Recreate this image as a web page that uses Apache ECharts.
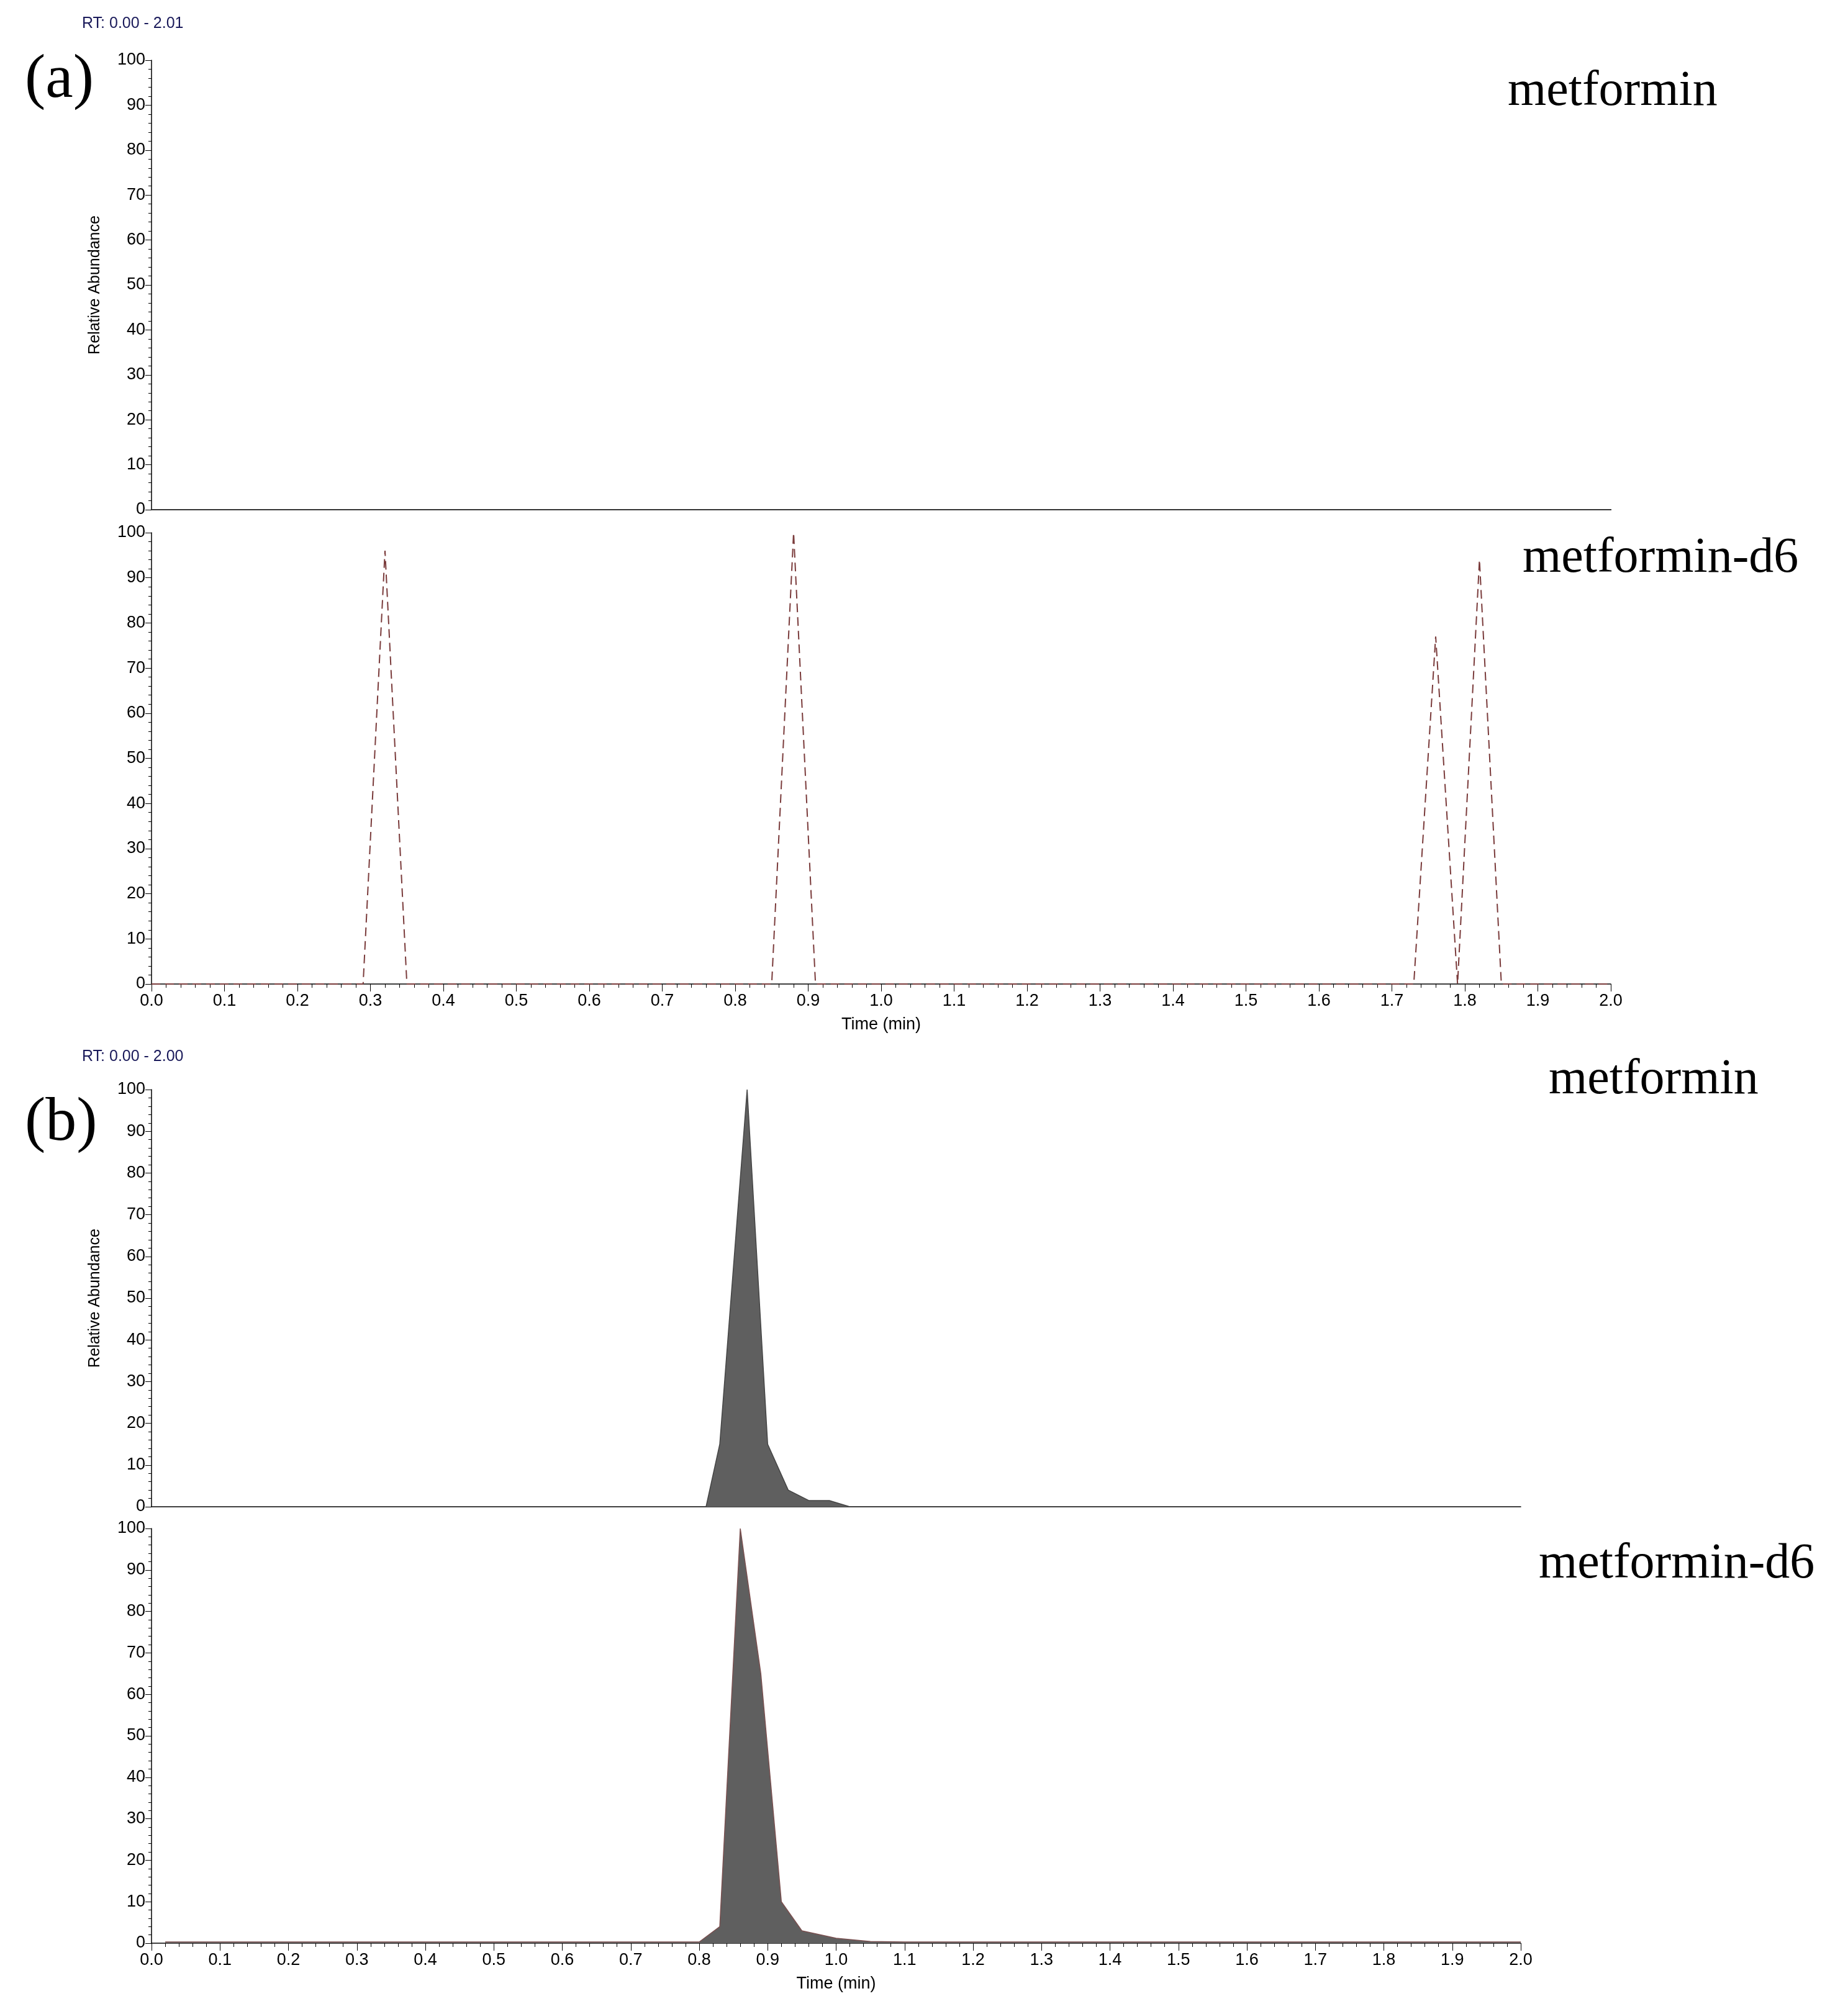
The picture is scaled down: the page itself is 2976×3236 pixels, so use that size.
<!DOCTYPE html>
<html><head><meta charset="utf-8">
<script src="https://cdn.jsdelivr.net/npm/echarts@6/dist/echarts.min.js"></script>
<style>html,body{margin:0;padding:0;background:#fff}#c{width:2976px;height:3236px}</style>
</head><body><div id="c"></div>
<script>
const yTicks = [0,10,20,30,40,50,60,70,80,90,100];
const xTicks = ['0.0','0.1','0.2','0.3','0.4','0.5','0.6','0.7','0.8','0.9','1.0','1.1','1.2','1.3','1.4','1.5','1.6','1.7','1.8','1.9','2.0'];
// (a) metformin (blank)
const aTopX = [0, 2.01];
const aTopY = [0, 0];
// (a) metformin-d6
const aBotX = [0.00,0.29,0.32,0.35,0.85,0.88,0.91,1.73,1.76,1.79,1.82,1.85,2.01];
const aBotY = [0,   0,   96,  0,   0,   100, 0,   0,   77,  0,   94,  0,   0];
const aBotLbl = ['', '', '0.32','', '', '0.88','', '', '1.76','', '1.82','', ''];
// (b) metformin
const bTopX = [0.81,0.83,0.87,0.90,0.93,0.96,0.99,1.02];
const bTopY = [0,   15,  100, 15,  4,   1.5, 1.5, 0];
const bTopLbl = ['','','RT: 0.87','','','','',''];
// (b) metformin-d6
const bBotX = [0.02,0.44,0.80,0.83,0.86,0.89,0.92,0.95,1.00,1.05,1.10,1.20,2.00];
const bBotY = [0.3, 0.3, 0.3, 4,   100, 65,  10,  3,   1.2, 0.4, 0.3, 0.3, 0.3];
const bBotLbl = ['','RT: 0.44','','','RT: 0.86','','','','','','','',''];

function mk(xs, ys, lbls){
  return xs.map((x,i)=>{
    const it = {value:[x, ys[i]]};
    if (lbls && lbls[i]) it.label = {show:true, formatter:lbls[i], position:'top', color:'#000', fontSize:25, fontFamily:'Liberation Sans Narrow, Arial', distance:6};
    return it;
  });
}
const ff = 'Liberation Sans Narrow, Liberation Sans, Arial';
function yAxis(i, name){
  return {gridIndex:i, type:'value', min:0, max:100, interval:10,
    axisLine:{show:true, lineStyle:{color:'#000', width:1.5}},
    axisTick:{show:true, length:10, lineStyle:{color:'#000'}},
    minorTick:{show:true, splitNumber:5, length:5, lineStyle:{color:'#000'}},
    axisLabel:{color:'#000', fontSize:27, fontFamily:ff, margin:10},
    splitLine:{show:false},
    name:name||'', nameLocation:'middle', nameGap:78, nameRotate:90,
    nameTextStyle:{color:'#000', fontSize:25, fontFamily:'Liberation Sans, Arial'}};
}
function xAxis(i, showLabels){
  return {gridIndex:i, type:'value', min:0, max:2, interval:0.1,
    axisLine:{show:true, onZero:false, lineStyle:{color:'#000', width:1.5}},
    axisTick:{show:showLabels, length:12, lineStyle:{color:'#000'}},
    minorTick:{show:showLabels, splitNumber:5, length:6, lineStyle:{color:'#000'}},
    axisLabel:{show:showLabels, color:'#000', fontSize:27, fontFamily:ff, margin:14, formatter:v=>v.toFixed(1)},
    splitLine:{show:false},
    name: showLabels ? 'Time (min)' : '', nameLocation:'middle', nameGap:52,
    nameTextStyle:{color:'#000', fontSize:27, fontFamily:ff}};
}
const chart = echarts.init(document.getElementById('c'), null, {renderer:'canvas'});
const serif = 'Times New Roman, Liberation Serif, serif';
chart.setOption({
  backgroundColor:'#fff', animation:false,
  grid:[
    {left:244, top:97, width:2350, height:724},
    {left:244, top:858, width:2350, height:727},
    {left:244, top:1755, width:2205, height:672},
    {left:244, top:2462, width:2205, height:668}
  ],
  xAxis:[xAxis(0,false), xAxis(1,true), xAxis(2,false), xAxis(3,true)],
  yAxis:[yAxis(0,'Relative Abundance'), yAxis(1), yAxis(2,'Relative Abundance'), yAxis(3)],
  series:[
    {type:'line', xAxisIndex:0, yAxisIndex:0, data:mk(aTopX,aTopY), symbol:'none', lineStyle:{color:'#333', width:2}},
    {type:'line', xAxisIndex:1, yAxisIndex:1, data:mk(aBotX,aBotY,aBotLbl), symbol:'none', showSymbol:false,
      lineStyle:{color:'#7a3b3b', width:2, type:[14,8]}, labelLayout:{hideOverlap:false}},
    {type:'line', xAxisIndex:2, yAxisIndex:2, data:mk(bTopX,bTopY,bTopLbl), symbol:'none',
      lineStyle:{color:'#444', width:1.5}, areaStyle:{color:'#5f5f5f', opacity:1}},
    {type:'line', xAxisIndex:3, yAxisIndex:3, data:mk(bBotX,bBotY,bBotLbl), symbol:'none',
      lineStyle:{color:'#7a5050', width:1.5}, areaStyle:{color:'#5f5f5f', opacity:1}}
  ],
  graphic:[
    {type:'text', left:132, top:26, style:{text:'RT: 0.00 - 2.01', fill:'#1a1a5a', font:'25px '+ff}},
    {type:'text', left:132, top:1690, style:{text:'RT: 0.00 - 2.00', fill:'#1a1a5a', font:'25px '+ff}},
    {type:'text', left:40, top:80, style:{text:'(a)', fill:'#000', font:'100px '+serif}},
    {type:'text', left:40, top:1760, style:{text:'(b)', fill:'#000', font:'100px '+serif}},
    {type:'text', left:2428, top:108, style:{text:'metformin', fill:'#000', font:'80px '+serif}},
    {type:'text', left:2452, top:860, style:{text:'metformin-d6', fill:'#000', font:'80px '+serif}},
    {type:'text', left:2494, top:1700, style:{text:'metformin', fill:'#000', font:'80px '+serif}},
    {type:'text', left:2478, top:2480, style:{text:'metformin-d6', fill:'#000', font:'80px '+serif}}
  ]
});
</script></body></html>
